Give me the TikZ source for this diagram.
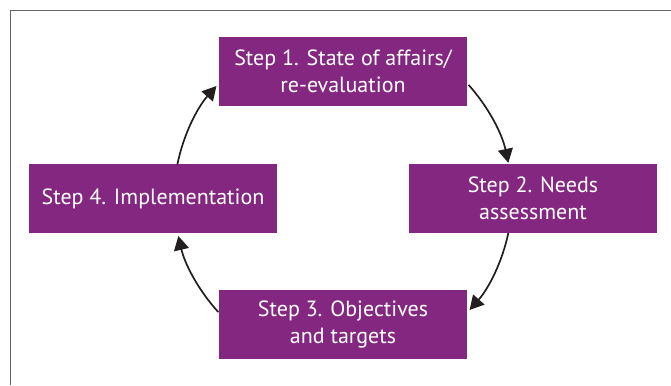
\documentclass[tikz,border=0pt]{standalone}
\usepackage{fontspec}
\setmainfont{PT Sans}
\usetikzlibrary{arrows.meta,calc}
\definecolor{stepfill}{RGB}{131,39,128}
\definecolor{arrowcol}{RGB}{35,31,32}
\definecolor{framecol}{RGB}{100,100,100}
\tikzset{
  stepbox/.style={fill=stepfill, text=white, minimum width=248pt, minimum height=69pt,
    inner sep=0pt, align=center, font=\fontsize{22}{27}\selectfont},
  cyclearrow/.style={draw=arrowcol, line width=1.7pt, -{Triangle[length=14pt,width=15pt]}},
  framestyle/.style={draw=framecol, line width=1pt}
}
\begin{document}
\begin{tikzpicture}[x=1pt,y=1pt]
\useasboundingbox (0,0) rectangle (671,385);
\draw[framestyle] (10.5,0) -- (10.5,374.5) -- (671,374.5);
\coordinate (c) at (343,187);
\node[stepbox] (s1) at (343,313.5) {Step 1. State of affairs/\\re-evaluation};
\node[stepbox] (s2) at (533,186.5) {Step 2. Needs\\assessment};
\node[stepbox] (s3) at (343,60) {Step 3. Objectives\\and targets};
\node[stepbox] (s4) at (153,186.5) {Step 4. Implementation};
\coordinate (a4) at ($(c)+(168.5:169)$);
\coordinate (a1) at ($(c)+(42:169)$);
\coordinate (a2) at ($(c)+(-12:169)$);
\coordinate (a3) at ($(c)+(222.5:169)$);
\draw[cyclearrow] (a4) arc[start angle=168.5, end angle=138.5, radius=169];
\draw[cyclearrow] (a1) arc[start angle=42, end angle=12, radius=169];
\draw[cyclearrow] (a2) arc[start angle=-12, end angle=-41.5, radius=169];
\draw[cyclearrow] (a3) arc[start angle=222.5, end angle=193, radius=169];
\end{tikzpicture}
\end{document}
